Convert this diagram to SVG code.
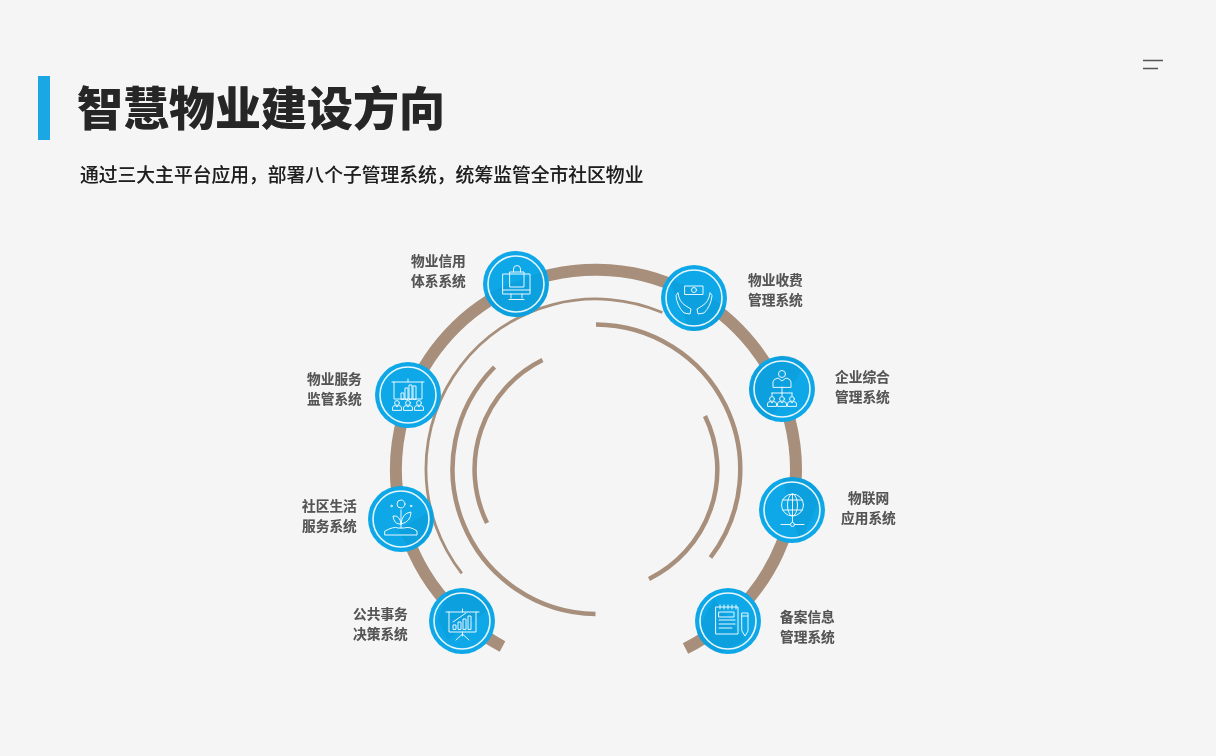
<svg xmlns="http://www.w3.org/2000/svg" width="1216" height="756" viewBox="0 0 1216 756">
<style>
.t{font-family:"Noto Sans CJK SC","Liberation Sans",sans-serif;}
.title{font-size:46px;font-weight:900;fill:#262626;filter:drop-shadow(.6px .6px .5px rgba(60,40,20,.4));}
.sub{font-size:18.8px;font-weight:500;fill:#1e1e1e;filter:drop-shadow(.7px .7px .5px rgba(0,0,0,.35));}
.lab{font-size:13.7px;font-weight:700;fill:#555;filter:drop-shadow(.5px .5px .5px rgba(0,0,0,.3));}
.arc{fill:none;stroke:#a78f7c;}
.disc{fill:#0ea8e8;}
.band{fill:#0b8fc9;opacity:.3;}
.ring{fill:none;stroke:#e6f6fd;stroke-width:1.6;}
.ic{fill:none;stroke:#e8f7fe;stroke-width:1;stroke-linecap:round;stroke-linejoin:round;}
</style>
<defs>
<g id="person"><circle cx="0" cy="-3" r="2.400" class="ic"/><path class="ic" d="M-4.500 4V2Q-4.500-.3-1.800-.5L0 1 1.800-.5Q4.500-.3 4.500 2V4Z"/></g>
</defs>
<rect width="1216" height="756" fill="#f5f5f5"/>
<rect x="38" y="76" width="12" height="64" fill="#1ba7e3"/>
<text class="t title" x="77" y="125">智慧物业建设方向</text>
<text class="t sub" x="80" y="182">通过三大主平台应用，部署八个子管理系统，统筹监管全市社区物业</text>
<path d="M1143 60.500H1163M1143 68.500H1158" stroke="#555" stroke-width="1.600" fill="none"/>

<g id="connectors">
<path class="arc" stroke-width="12" d="M502.500 646.500A200 200 0 1 1 685.500 648.500"/>
<path class="arc" stroke-width="2.800" d="M461.800 573.400A170 170 0 0 1 662.400 312.500"/>
<path class="arc" stroke-width="4.500" d="M596 324.500A145 145 0 0 1 710.500 557.500"/>
<path class="arc" stroke-width="4.500" d="M595.500 614A145 145 0 0 1 494.500 367"/>
<path class="arc" stroke-width="4.500" d="M542.500 360A122 122 0 0 0 487 523"/>
<path class="arc" stroke-width="4.500" d="M705 416A122 122 0 0 1 649 579"/>
</g>

<g id="node-credit">
<circle class="disc" cx="516" cy="284" r="33"/>
<path class="band" d="M484.600 294A33 33 0 0 0 548 291L546 270Z"/>
<circle class="ring" cx="516" cy="284" r="28"/>
<path class="ic" d="M503 274H530V294H503ZM511 294V298M522 294V298M509 299.500H524M503 290H530M510 272H524V287H510ZM513.500 272V269A3.500 3.500 0 0 1 520.500 269V272"/>
<text class="t lab" x="411" y="266">物业信用</text><text class="t lab" x="411" y="286">体系系统</text>
</g>

<g id="node-fee">
<circle class="disc" cx="694" cy="298" r="33"/>
<path class="band" d="M668 278L726 306A33 33 0 0 1 690 330.500Z"/>
<circle class="ring" cx="694" cy="298" r="28"/>
<path class="ic" d="M685 286H703V294.500H685Z"/><circle class="ic" cx="694" cy="290" r="2.500"/>
<path class="ic" d="M678 293Q679 302 686 306L691 309 690 314 684 313Q677 306 676 296ZM710 293Q709 302 702 306L697 309 698 314 704 313Q711 306 712 296Z"/>
<text class="t lab" x="748" y="285">物业收费</text><text class="t lab" x="748" y="305">管理系统</text>
</g>

<g id="node-enterprise">
<circle class="disc" cx="782" cy="389" r="33"/>
<path class="band" d="M756 368.500L779 356A33 33 0 0 1 805 365L770 420A33 33 0 0 1 749 389Z"/>
<circle class="ring" cx="782" cy="389" r="28"/>
<circle class="ic" cx="782" cy="374" r="3.500"/>
<path class="ic" d="M773 387V382Q773 379 778 378L782 381 786 378Q791 379 791 382V387ZM782 387V393M772 393H792M772 393V396M782 393V396M792 393V396"/>
<use href="#person" x="772" y="402"/><use href="#person" x="782" y="402"/><use href="#person" x="792" y="402"/>
<text class="t lab" x="835" y="382">企业综合</text><text class="t lab" x="835" y="402">管理系统</text>
</g>

<g id="node-iot">
<circle class="disc" cx="792" cy="510" r="33"/>
<path class="band" d="M782 478.500A33 33 0 0 1 822 496L800 542Z"/>
<circle class="ring" cx="792" cy="510" r="28"/>
<circle class="ic" cx="792.500" cy="505" r="11"/>
<ellipse class="ic" cx="792.500" cy="505" rx="5" ry="11"/>
<path class="ic" d="M792.500 494V516M782.500 500H802.500M782.500 510H802.500M792.500 516V522M781 524.500H790M795 524.500H804"/><circle class="ic" cx="792.500" cy="524.500" r="2"/>
<text class="t lab" x="848" y="503">物联网</text><text class="t lab" x="841" y="523">应用系统</text>
</g>

<g id="node-record">
<circle class="disc" cx="728" cy="621" r="33"/>
<path class="band" d="M697 633L714 598 745 640 720 653A33 33 0 0 1 697 633Z"/>
<circle class="ring" cx="728" cy="621" r="28"/>
<path class="ic" d="M716 607H738V634H716ZM720 605V609M724 605V609M728 605V609M732 605V609M736 605V609M719 612H734V617H719ZM719 620H735M719 624H735M719 628H732M742 613H748V631L745 636 742 631ZM742 616H748"/>
<text class="t lab" x="780" y="622">备案信息</text><text class="t lab" x="780" y="642">管理系统</text>
</g>

<g id="node-public">
<circle class="disc" cx="462" cy="621" r="33"/>
<path class="band" d="M447 592L474 590 492 607 448 640 438 620Z"/>
<circle class="ring" cx="462" cy="621" r="28"/>
<path class="ic" d="M446 612H479M449 612V632H476V612M462.500 612V609M462.500 632V636M456 640L462.500 634 469 640"/>
<path class="ic" d="M453 629V625H456V629ZM458 629V622H461V629ZM463 629V619H466V629ZM468 629V616H471V629ZM453 622L466 613"/>
<text class="t lab" x="353" y="619">公共事务</text><text class="t lab" x="353" y="639">决策系统</text>
</g>

<g id="node-community">
<circle class="disc" cx="401" cy="519" r="33"/>
<path class="band" d="M398 530L432 510A33 33 0 0 1 410 550Z"/>
<circle class="ring" cx="401" cy="519" r="28"/>
<circle class="ic" cx="401" cy="504" r="4"/>
<circle class="ic" cx="391.500" cy="506" r=".8"/><circle class="ic" cx="411" cy="506" r=".8"/>
<path class="ic" d="M401 510V528M401 524Q394 525 393 516Q400 515 401 524ZM401 524Q402 513 411 512Q411 522 401 524ZM385 531Q394 526 398 528H404Q410 526 417 531V535H385Z"/>
<text class="t lab" x="302" y="511">社区生活</text><text class="t lab" x="302" y="531">服务系统</text>
</g>

<g id="node-service">
<circle class="disc" cx="408" cy="395" r="33"/>
<circle class="ring" cx="408" cy="395" r="28"/>
<path class="ic" d="M392 382H424M394 382V399H422V382M408 382V379"/>
<path class="ic" d="M401 399V393H404V399ZM405 399V388H408V399ZM409 399V385H412V399ZM413 399V386H416V399Z"/>
<use href="#person" x="397" y="406"/><use href="#person" x="408" y="406"/><use href="#person" x="419" y="406"/>
<text class="t lab" x="307" y="384">物业服务</text><text class="t lab" x="307" y="404">监管系统</text>
</g>
</svg>
